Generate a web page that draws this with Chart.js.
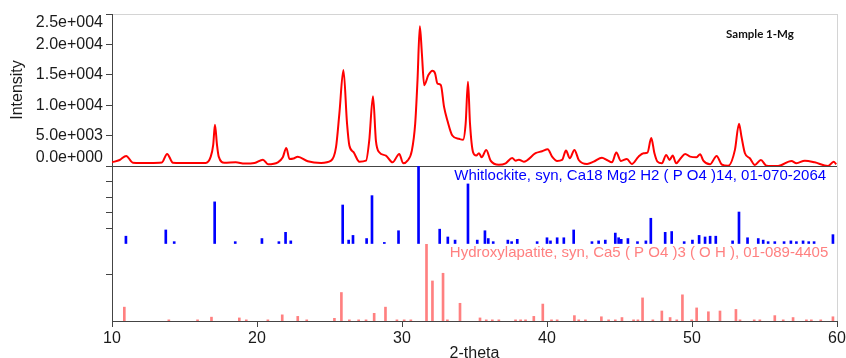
<!DOCTYPE html>
<html>
<head>
<meta charset="utf-8">
<script src="https://cdn.jsdelivr.net/npm/chart.js@4"></script>
<style>
  html, body { margin: 0; padding: 0; background: #fff; }
</style>
</head>
<body>
<canvas id="xrd" width="846" height="358"></canvas>
<script>
// measured pattern, 2-theta vs counts
const twoTheta = [10.00, 10.53, 10.98, 11.44, 12.61, 13.44, 13.80, 14.20, 15.36, 16.46,
    16.81, 16.98, 17.10, 17.24, 17.36, 17.75, 18.53, 19.15, 19.83, 20.41,
    20.76, 21.44, 21.78, 22.02, 22.24, 22.52, 22.81, 23.50, 24.42, 25.11,
    25.45, 25.68, 25.96, 26.21, 26.37, 26.66, 27.06, 27.52, 27.74, 28.00,
    28.20, 28.43, 28.89, 29.35, 29.81, 30.08, 30.38, 30.68, 30.91, 31.07,
    31.23, 31.37, 31.53, 31.82, 32.10, 32.28, 32.44, 32.68, 32.90, 33.13,
    33.47, 33.93, 34.21, 34.39, 34.55, 34.69, 34.90, 35.12, 35.31, 35.49,
    35.81, 36.11, 36.68, 37.15, 37.60, 37.84, 38.06, 38.40, 39.21, 39.66,
    40.05, 40.35, 40.70, 41.04, 41.31, 41.57, 41.89, 42.19, 42.76, 43.22,
    43.79, 44.13, 44.48, 44.78, 45.10, 45.51, 45.85, 46.31, 46.66, 46.93,
    47.19, 47.41, 47.62, 47.92, 48.22, 48.45, 48.67, 48.91, 49.22, 49.53,
    49.87, 50.32, 50.56, 50.78, 51.24, 51.70, 52.04, 52.50, 52.96, 53.24,
    53.41, 53.65, 53.99, 54.34, 54.75, 55.14, 55.94, 56.86, 57.20, 57.78,
    58.46, 59.38, 59.77, 59.95];
const intensity = [610, 990, 1660, 550, 500, 580, 1990, 550, 500, 500,
    1540, 3480, 6790, 3480, 1540, 550, 610, 410, 500, 1040,
    300, 610, 1440, 2980, 1160, 1240, 1540, 780, 500, 880,
    3100, 8610, 15780, 6960, 3360, 2270, 710, 880, 4190, 11480,
    4190, 2270, 1710, 610, 1990, 450, 880, 2530, 6960, 14130,
    22970, 18550, 13300, 14950, 15680, 15240, 13580, 13300, 9720, 7500,
    5020, 4470, 4310, 6960, 13860, 6960, 2270, 1710, 2100, 1440,
    2650, 880, 200, 450, 1320, 880, 1040, 710, 2100, 2430,
    2770, 1540, 830, 990, 2530, 1280, 2650, 990, 330, 710,
    1370, 990, 610, 2200, 830, 1160, 330, 1540, 2100, 2200,
    4590, 2100, 710, 450, 1820, 990, 1710, 450, 1280, 1990,
    1540, 1440, 1940, 880, 280, 1660, 280, 50, 2650, 6960,
    4850, 2100, 1280, 170, 990, 50, 0, 830, 450, 880,
    610, 0, 710, 280];

// Whitlockite, 01-070-2064 (relative intensity %)
const whitPos = [10.96, 13.71, 14.29, 17.08, 18.50, 20.34, 21.51, 21.97, 22.33, 25.91,
    26.32, 26.62, 27.56, 27.93, 28.78, 29.76, 31.14, 32.60, 33.16, 33.66,
    34.55, 35.19, 35.72, 35.95, 36.29, 37.30, 37.56, 37.95, 39.32, 40.00,
    40.24, 40.70, 41.16, 41.84, 43.10, 43.56, 44.02, 44.71, 44.94, 45.12,
    45.58, 46.24, 46.82, 47.16, 48.15, 48.60, 49.46, 50.03, 50.49, 50.90,
    51.25, 51.64, 52.80, 53.24, 53.83, 54.57, 54.91, 55.25, 55.71, 56.35,
    56.82, 57.20, 57.66, 58.05, 58.42, 59.72];
const whitRel = [10, 18, 3, 54, 3, 7, 3, 15, 4, 50,
    5, 11, 7, 62, 2, 17, 100, 19, 9, 5,
    77, 5, 17, 7, 3, 5, 3, 6, 3, 8,
    4, 8, 8, 18, 3, 4, 5, 14, 8, 6,
    7, 3, 4, 33, 15, 16, 3, 5, 11, 9,
    10, 10, 4, 41, 8, 7, 5, 3, 3, 3,
    4, 3, 4, 3, 3, 12];

// Hydroxylapatite, 01-089-4405 (relative intensity %)
const hapPos = [10.85, 13.92, 15.90, 16.86, 18.78, 19.26, 20.75, 21.74, 22.81, 23.43,
    25.34, 25.82, 26.37, 27.01, 27.52, 28.08, 28.86, 29.65, 30.15, 30.61,
    31.69, 32.10, 32.83, 33.13, 34.00, 35.38, 35.81, 36.23, 36.68, 37.83,
    38.18, 38.52, 39.09, 39.71, 40.31, 40.70, 41.89, 42.19, 42.65, 43.75,
    44.25, 44.71, 45.17, 45.97, 46.27, 46.59, 47.30, 47.92, 48.49, 48.95,
    49.34, 49.98, 50.32, 51.13, 51.93, 53.03, 53.31, 54.29, 54.68, 55.71,
    56.29, 56.97, 57.89, 58.23, 58.88, 59.72];
const hapRel = [18, 1.5, 1.5, 5, 4, 1.5, 1.5, 8, 6, 1.5,
    3.5, 37, 1.5, 1.5, 1.5, 10, 18, 1.5, 1.5, 1.5,
    100, 52, 62, 1.5, 23, 4, 1.5, 1.5, 1.5, 1.5,
    1.5, 1.5, 6, 22, 1.5, 1.5, 7, 1.5, 1.5, 5.5,
    1.5, 1.5, 4.5, 1.5, 1.5, 30, 1.5, 13, 4.5, 1.5,
    34, 1.5, 17, 12, 13, 15, 1.5, 1.5, 1.5, 7,
    1.5, 4.5, 1.5, 1.5, 1.5, 5.5];

const whitName = 'Whitlockite, syn, Ca18 Mg2 H2 ( P O4 )14, 01-070-2064';
const hapName = 'Hydroxylapatite, syn, Ca5 ( P O4 )3 ( O H ), 01-089-4405';
const sampleName = 'Sample 1-Mg';

const lineColor = 'rgb(255, 0, 0)';
const whitColor = 'rgb(0, 0, 255)';
const hapColor = 'rgb(255, 128, 128)';
const axisColor = '#444';
const frameColor = '#d4d4d4';
const fontFamily = '"Liberation Sans", Arial, sans-serif';

function toPoints(xs, ys) {
    return xs.map((x, i) => ({ x: x, y: ys[i] }));
}

// 2.5e+004 style labels, the two end labels pushed inside the panel
function expLabel(v) {
    var parts = v.toExponential(1).split('e');
    var s = parts[0] + 'e' + parts[1][0] + parts[1].slice(1).padStart(3, '0');
    if (v === 25000) return ['', s];
    if (v === 0) return [s, ''];
    return s;
}

const phaseLabels = {
    id: 'phaseLabels',
    afterDatasetsDraw(chart) {
        const { ctx, scales } = chart;
        ctx.save();
        ctx.textBaseline = 'middle';
        ctx.textAlign = 'right';
        ctx.font = '15px ' + fontFamily;
        ctx.fillStyle = whitColor;
        ctx.fillText(whitName, scales.x.getPixelForValue(59.25), scales.yW.getPixelForValue(88));
        ctx.fillStyle = hapColor;
        ctx.fillText(hapName, scales.x.getPixelForValue(59.4), scales.yH.getPixelForValue(89));
        ctx.textAlign = 'left';
        ctx.font = 'bold 11.5px Lato, "Open Sans", sans-serif';
        ctx.fillStyle = '#111';
        ctx.fillText(sampleName, scales.x.getPixelForValue(52.35), scales.y.getPixelForValue(21700));
        ctx.restore();
    }
};

const fitY = (scale) => {
    scale.width = 112;
    scale.paddingTop = 0;
    scale.paddingBottom = 0;
};

const config = {
    type: 'line',
    data: {
        datasets: [{
            data: toPoints(twoTheta, intensity),
            borderColor: lineColor,
            borderWidth: 2,
            pointRadius: 0,
            cubicInterpolationMode: 'monotone',
            yAxisID: 'y',
        }, {
            type: 'bar',
            data: toPoints(whitPos, whitRel),
            backgroundColor: whitColor,
            barThickness: 2,
            grouped: false,
            yAxisID: 'yW',
        }, {
            type: 'bar',
            data: toPoints(hapPos, hapRel),
            backgroundColor: hapColor,
            barThickness: 2,
            grouped: false,
            yAxisID: 'yH',
        }]
    },
    options: {
        responsive: false,
        animation: false,
        layout: {
            padding: { top: 14, right: 9, bottom: 0, left: 0 }
        },
        plugins: {
            legend: { display: false },
            tooltip: { enabled: false },
        },
        scales: {
            x: {
                type: 'linear',
                min: 10,
                max: 60,
                offset: false,
                afterFit: (s) => { s.height = 37; s.paddingLeft = 0; s.paddingRight = 0; },
                ticks: {
                    stepSize: 10,
                    padding: 2,
                    color: '#1a1a1a',
                    font: { family: fontFamily, size: 16 },
                    maxRotation: 0,
                    autoSkip: false,
                },
                grid: {
                    offset: false,
                    drawOnChartArea: true,
                    // only the right frame edge is drawn across the plot
                    color: (ctx) => ctx.tick && ctx.tick.value === 60 ? frameColor : 'rgba(0,0,0,0)',
                    tickColor: axisColor,
                    tickLength: 6,
                },
                border: { color: axisColor },
                title: {
                    display: true,
                    text: '2-theta',
                    color: '#1a1a1a',
                    font: { family: fontFamily, size: 16, lineHeight: 0.5 },
                    padding: 0,
                },
            },
            y: {
                type: 'linear',
                position: 'left',
                stack: 'panels',
                stackWeight: 152,
                weight: 3,
                min: 0,
                max: 25000,
                afterFit: fitY,
                ticks: {
                    stepSize: 5000,
                    padding: 3,
                    autoSkip: false,
                    color: '#1a1a1a',
                    font: { family: fontFamily, size: 16, lineHeight: 1.1 },
                    callback: expLabel,
                },
                grid: {
                    drawOnChartArea: true,
                    color: (ctx) => {
                        if (!ctx.tick) return 'rgba(0,0,0,0)';
                        if (ctx.tick.value === 0) return axisColor;
                        if (ctx.tick.value === 25000) return frameColor;
                        return 'rgba(0,0,0,0)';
                    },
                    tickColor: axisColor,
                    tickLength: 6,
                },
                border: { color: axisColor },
                title: {
                    display: true,
                    text: 'Intensity',
                    color: '#1a1a1a',
                    font: { family: fontFamily, size: 16 },
                    padding: { top: 8, bottom: 0 },
                },
            },
            yW: {
                type: 'linear',
                position: 'left',
                stack: 'panels',
                stackWeight: 78,
                weight: 2,
                min: 0,
                max: 100,
                afterFit: fitY,
                ticks: { stepSize: 20, display: false, autoSkip: false },
                grid: {
                    drawOnChartArea: false,
                    color: (ctx) => ctx.tick && (ctx.tick.value === 0 || ctx.tick.value === 100) ? 'rgba(0,0,0,0)' : axisColor,
                    tickLength: 6,
                },
                border: { color: axisColor },
            },
            yH: {
                type: 'linear',
                position: 'left',
                stack: 'panels',
                stackWeight: 77,
                weight: 1,
                min: 0,
                max: 100,
                afterFit: fitY,
                afterBuildTicks: (s) => { s.ticks = [{ value: 60 }]; },
                ticks: { display: false },
                grid: {
                    drawOnChartArea: false,
                    color: axisColor,
                    tickLength: 6,
                },
                border: { color: axisColor },
            },
        }
    },
    plugins: [phaseLabels]
};

new Chart(document.getElementById('xrd'), config);
</script>
</body>
</html>
